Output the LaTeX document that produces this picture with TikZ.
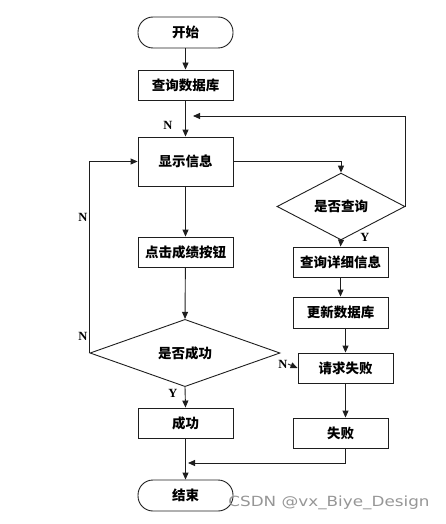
\documentclass[tikz,border=0pt]{standalone}
\usepackage{fontspec}
\setmainfont{Liberation Serif}
\newfontfamily\cjk{Noto Sans CJK SC}
\newfontfamily\wmfont{DejaVu Sans}
\usetikzlibrary{shapes.geometric,arrows.meta}
\definecolor{wm}{RGB}{150,150,150}
\definecolor{ln}{RGB}{30,30,30}
\begin{document}
\begin{tikzpicture}[x=1pt,y=-1pt,
  line width=0.9pt, draw=ln,
  box/.style={draw=ln, rectangle, minimum width=95pt, minimum height=30pt, inner sep=0pt, font=\cjk\bfseries\fontsize{13.5}{15}\selectfont},
  term/.style={box, rounded corners=15pt, minimum height=31pt},
  dec/.style={draw=ln, diamond, inner sep=0pt, font=\cjk\bfseries\fontsize{13.5}{15}\selectfont},
  lab/.style={font=\bfseries\fontsize{12.5}{14}\selectfont, inner sep=0pt},
  arr/.style={ln, -{Triangle[length=7pt,width=6pt]}}
]
\useasboundingbox (0,0) rectangle (446,524);

\node[term] (start) at (185.5,32.5) {开始};
\node[box] (db) at (185.5,85) {查询数据库};
\node[box, minimum height=49pt] (show) at (185.5,161.5) {显示信息};
\node[box] (click) at (185.5,252) {点击成绩按钮};
\node[dec, minimum width=190pt, minimum height=50pt] (sq) at (185,353) {是否成功};
\node[box] (succ) at (185.5,423) {成功};
\node[term] (end) at (185.5,495.5) {结束};

\node[dec, minimum width=128pt, minimum height=49pt] (qq) at (341,206.5) {是否查询};
\node[box] (detail) at (340.5,262) {查询详细信息};
\node[box, minimum height=31pt] (update) at (340.5,312.5) {更新数据库};
\node[box] (reqf) at (345.5,368) {请求失败};
\node[box] (fail) at (340.5,433) {失败};

\coordinate (fb1) at (193,116);
\coordinate (fb2) at (188,463);

\node[lab] (n1) at (168,125) {N};
\node[lab] (y1) at (365,237) {Y};
\node[lab] (n2) at (83,217) {N};
\node[lab] (n3) at (83,336) {N};
\node[lab] (n4) at (283,364) {N};
\node[lab] (y2) at (173,393) {Y};

\draw[arr] (start) -- (db);
\draw[arr] (db) -- (show);
\draw[arr] (show.east) -| (qq.north);
\draw[arr] (qq.east) |- (fb1);
\draw[arr] (qq.south) -- (detail.north);
\draw[arr] (detail) -- (update);
\draw[arr] (reqf.north |- update.south) -- (reqf.north);
\draw[arr] (reqf.south) -- (reqf.south |- fail.north);
\draw[arr] (reqf.south |- fail.south) |- (fb2);
\draw[arr] (show) -- (click);
\draw[arr] (click) -- (sq.north);
\draw[arr] (sq.west) -- (sq.west |- show.west) -- (show.west);
\draw[arr] (n4.east) -- (reqf.west);
\draw[arr] (sq.south) -- (succ.north);
\draw[arr] (succ) -- (end);

\node[text=wm, font=\wmfont\fontsize{14}{16}\selectfont, inner sep=0pt] (wmk) at (329,503) {\scalebox{1.2}[1]{CSDN @vx\_Biye\_Design}};
\end{tikzpicture}
\end{document}
